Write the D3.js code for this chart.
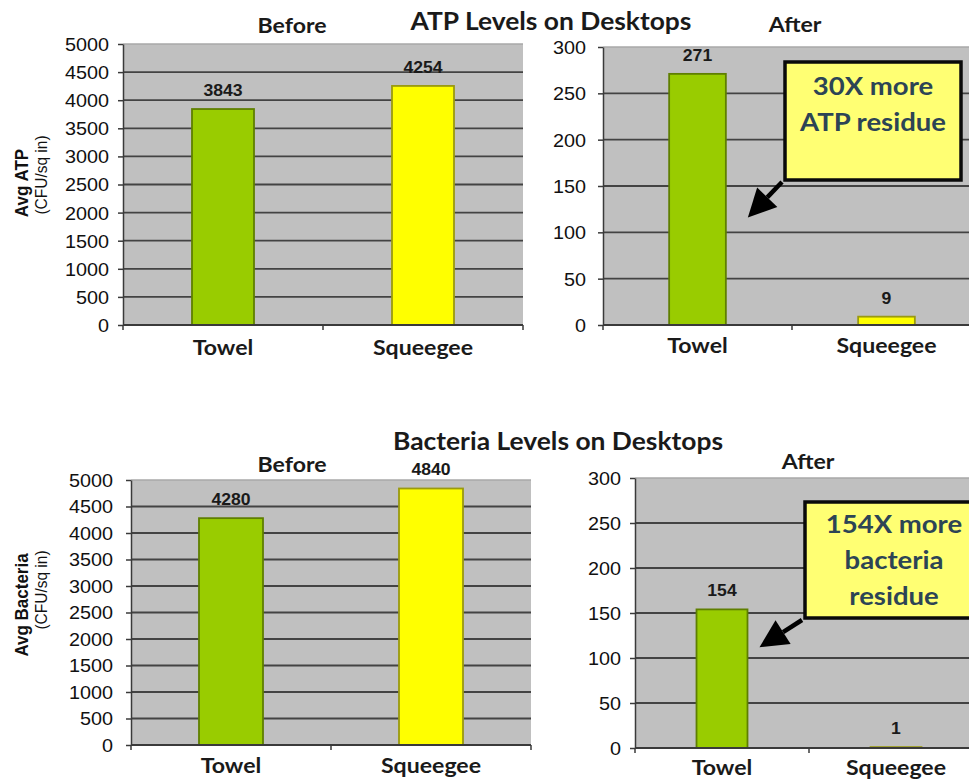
<!DOCTYPE html>
<html>
<head>
<meta charset="utf-8">
<script src="https://cdn.jsdelivr.net/npm/d3@7"></script>
<style>
  html, body { margin: 0; padding: 0; background: #ffffff; }
  svg { display: block; }
</style>
</head>
<body>
<svg id="chart" width="969" height="781"></svg>
<script>
// ---- data ----
const categories = ["Towel", "Squeegee"];
const atpBefore = [3843, 4254];
const atpAfter = [271, 9];
const bacteriaBefore = [4280, 4840];
const bacteriaAfter = [154, 1];
const beforeTicks = [0, 500, 1000, 1500, 2000, 2500, 3000, 3500, 4000, 4500, 5000];
const afterTicks = [0, 50, 100, 150, 200, 250, 300];
const barColors = ["#99cc00", "#ffff00"];
const barStrokes = ["#5f7f00", "#9a9a10"];

// ---- styling ----
const SX = 1.1;               // horizontal text stretch
const NUM_FONT = "'Liberation Sans', Arial, sans-serif";
const HEAD_FONT = "Lato, 'Open Sans', sans-serif";

const svg = d3.select("#chart");

function label(g, x, y, str, o = {}) {
  return g.append("text")
    .attr("transform", `translate(${x},${y}) scale(${SX},1)`)
    .attr("text-anchor", o.anchor || "middle")
    .attr("font-family", o.family || HEAD_FONT)
    .attr("font-weight", o.weight || "bold")
    .attr("font-size", o.size || 22)
    .attr("fill", o.fill || "#1a1a1a")
    .text(str);
}

function panel(cfg) {
  const g = svg.append("g");
  const top = d3.max(cfg.ticks);
  const x = d3.scaleBand().domain(categories)
    .range([cfg.x0, cfg.x1]).paddingInner(cfg.pad).paddingOuter(cfg.pad / 2);
  const y = d3.scaleLinear().domain([0, top]).range([cfg.yb, cfg.yt]);

  // plot area
  g.append("rect")
    .attr("x", cfg.x0).attr("y", y(top))
    .attr("width", cfg.x1 - cfg.x0).attr("height", y(0) - y(top))
    .attr("fill", "#c0c0c0");
  g.append("line")
    .attr("x1", cfg.x0).attr("x2", cfg.x1)
    .attr("y1", y(top)).attr("y2", y(top))
    .attr("stroke", "#a8a8a8").attr("stroke-width", 1.5);

  // gridlines
  g.append("g").selectAll("line")
    .data(cfg.ticks.filter(t => t > 0 && t < top))
    .join("line")
    .attr("x1", cfg.x0).attr("x2", cfg.x1)
    .attr("y1", d => y(d)).attr("y2", d => y(d))
    .attr("stroke", "#434343").attr("stroke-width", 1.8);

  // y axis
  const ya = g.append("g").attr("transform", `translate(${cfg.x0},0)`)
    .call(d3.axisLeft(y).tickValues(cfg.ticks).tickFormat(d3.format("d"))
      .tickSize(5).tickSizeOuter(0));
  ya.select(".domain").attr("stroke", "#3a3a3a").attr("stroke-width", 1.5);
  ya.selectAll(".tick line").attr("stroke", "#3a3a3a").attr("stroke-width", 1.5);
  ya.selectAll(".tick text")
    .attr("x", null).attr("dy", "0.36em")
    .attr("transform", `translate(${-cfg.tickGap},0) scale(${SX},1)`)
    .attr("font-family", NUM_FONT).attr("font-size", 18).attr("fill", "#111");

  // bars
  g.append("g").selectAll("rect")
    .data(cfg.values)
    .join("rect")
    .attr("x", (d, i) => x(categories[i]))
    .attr("y", d => y(d))
    .attr("width", x.bandwidth())
    .attr("height", d => y(0) - y(d))
    .attr("fill", (d, i) => barColors[i])
    .attr("stroke", (d, i) => barStrokes[i])
    .attr("stroke-width", 1.8);

  // x axis line and boundary ticks
  g.append("line")
    .attr("x1", cfg.x0).attr("x2", cfg.x1)
    .attr("y1", y(0)).attr("y2", y(0))
    .attr("stroke", "#3a3a3a").attr("stroke-width", 1.8);
  const bounds = [cfg.x0].concat(categories.map(c => x(c) + x.bandwidth() + x.step() * x.paddingInner() / 2));
  g.append("g").selectAll("line")
    .data(bounds)
    .join("line")
    .attr("x1", d => d).attr("x2", d => d)
    .attr("y1", y(0)).attr("y2", y(0) + 5)
    .attr("stroke", "#3a3a3a").attr("stroke-width", 1.5);

  // category labels
  categories.forEach(c => {
    label(g, x(c) + x.bandwidth() / 2, y(0) + cfg.catDy, c, { size: 21 });
  });

  // value labels
  cfg.values.forEach((v, i) => {
    label(g, x(categories[i]) + x.bandwidth() / 2, y(v) - 13, String(v),
      { family: NUM_FONT, size: 16, fill: "#1a1a1a" });
  });

  // section heading
  label(g, cfg.headX, cfg.headY, cfg.head, { size: 21 });

  return { g, x, y };
}

function callout(p, cfg) {
  const g = p.g;
  g.append("rect")
    .attr("x", cfg.bx).attr("y", cfg.by)
    .attr("width", cfg.bw).attr("height", cfg.bh)
    .attr("fill", "#ffff73")
    .attr("stroke", "#0a0a0a").attr("stroke-width", 3.5);
  cfg.lines.forEach((t, i) => {
    label(g, cfg.bx + cfg.bw / 2, cfg.ty + i * 36, t, { size: 25, fill: "#2c4455" });
  });
  // arrow toward the towel bar
  const tipX = p.x("Towel") + p.x.bandwidth() + cfg.tipOffset;
  const tipY = p.y(cfg.tipValue);
  const sx = cfg.bx - 3, sy = cfg.by + cfg.bh + 2;
  const ang = Math.atan2(tipY - sy, tipX - sx);
  const headLen = 28, headW = 14;
  const bx = tipX - headLen * Math.cos(ang), by = tipY - headLen * Math.sin(ang);
  g.append("line")
    .attr("x1", sx).attr("y1", sy).attr("x2", bx).attr("y2", by)
    .attr("stroke", "#000").attr("stroke-width", 4.5);
  const px = -Math.sin(ang), py = Math.cos(ang);
  g.append("path")
    .attr("d", d3.line()([
      [tipX, tipY],
      [bx + px * headW, by + py * headW],
      [bx - px * headW, by - py * headW]
    ]) + "Z")
    .attr("fill", "#000");
}

function yTitle(x, cy, main, sub, subDy) {
  svg.append("text")
    .attr("transform", `translate(${x},${cy}) rotate(-90) scale(1,${SX})`)
    .attr("text-anchor", "middle")
    .attr("font-family", NUM_FONT).attr("font-weight", "bold").attr("font-size", 17)
    .attr("fill", "#111").text(main);
  svg.append("text")
    .attr("transform", `translate(${x + 19},${cy + subDy}) rotate(-90) scale(1,${SX})`)
    .attr("text-anchor", "middle")
    .attr("font-family", NUM_FONT).attr("font-size", 15.5)
    .attr("fill", "#111").text(sub);
}

// ---- ATP row ----
const atpB = panel({ values: atpBefore, ticks: beforeTicks, x0: 123, x1: 523, yt: 44, yb: 325,
  pad: 0.69, tickGap: 14, catDy: 30, head: "Before", headX: 292, headY: 33 });
const atpA = panel({ values: atpAfter, ticks: afterTicks, x0: 603, x1: 981, yt: 47, yb: 325,
  pad: 0.70, tickGap: 17, catDy: 28, head: "After", headX: 795, headY: 32 });
label(svg, 551, 30, "ATP Levels on Desktops", { size: 24 });
callout(atpA, { bx: 785, by: 62, bw: 176, bh: 118, ty: 95,
  lines: ["30X more", "ATP residue"], tipValue: 116, tipOffset: 22 });
yTitle(28, 183, "Avg ATP", "(CFU/sq in)", -8);

// ---- Bacteria row ----
const bacB = panel({ values: bacteriaBefore, ticks: beforeTicks, x0: 131, x1: 531, yt: 480, yb: 745,
  pad: 0.68, tickGap: 18, catDy: 28, head: "Before", headX: 292, headY: 472 });
const bacA = panel({ values: bacteriaAfter, ticks: afterTicks, x0: 635, x1: 983, yt: 478, yb: 748,
  pad: 0.707, tickGap: 14, catDy: 27, head: "After", headX: 808, headY: 469 });
label(svg, 558, 450, "Bacteria Levels on Desktops", { size: 24 });
callout(bacA, { bx: 805, by: 502, bw: 178, bh: 116, ty: 533,
  lines: ["154X more", "bacteria", "residue"], tipValue: 112, tipOffset: 12 });
yTitle(28, 605, "Avg Bacteria", "(CFU/sq in)", -15);
</script>
</body>
</html>
